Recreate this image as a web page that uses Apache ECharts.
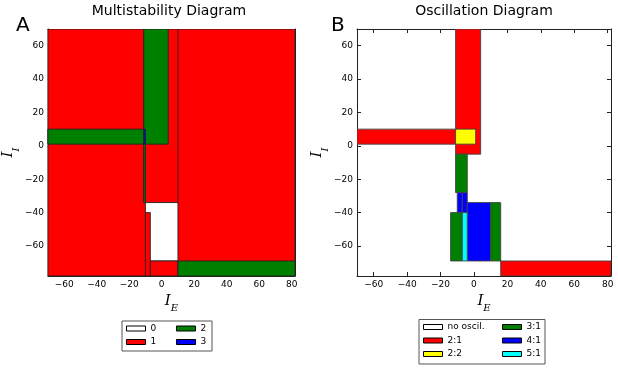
<!DOCTYPE html>
<html><head><meta charset="utf-8">
<script src="https://cdn.jsdelivr.net/npm/echarts@6/dist/echarts.min.js"></script>
<style>html,body{margin:0;padding:0;background:#fff}#c{width:618px;height:368px}</style>
</head><body><div id="c"></div>
<script>
// ---- data ----
const xTicks = [-60, -40, -20, 0, 20, 40, 60, 80];
const yTicks = [-60, -40, -20, 0, 20, 40, 60];
const xRange = [-70, 82];
const yRange = [-78, 70];

const multiLabels = ['0', '1', '2', '3'];
const multiColors = ['#ffffff', '#ff0000', '#008000', '#0000ff'];
// [xStart, xEnd, yStart, yEnd, stateIndex] in drawing order
const multiRects = [
  [-70, 82, -78, 70, 1],
  [-11, 10, -34, 70, 1],
  [-11, 4, 1, 70, 2],
  [-70, -11, 1, 10, 2],
  [-11, -10, 1, 10, 3],
  [-11, -10, -34, 1, 2],
  [-10, 10, -69, -34, 0],
  [-10, -7, -78, -40, 1],
  [-7, 10, -78, -69, 1],
  [10, 82, -78, -69, 2]
];

const oscLabels = ['no oscil.', '2:1', '2:2', '3:1', '4:1', '5:1'];
const oscColors = ['#ffffff', '#ff0000', '#ffff00', '#008000', '#0000ff', '#00ffff'];
const oscRects = [
  [-70, -11, 1, 10, 1],
  [-11, 4, -5, 70, 1],
  [-11, 1, 1, 10, 2],
  [-11, -4, -28, -5, 3],
  [-10, -7, -40, -28, 4],
  [-7, -4, -40, -28, 4],
  [-4, 10, -69, -34, 4],
  [10, 16, -69, -34, 3],
  [-14, -7, -69, -40, 3],
  [-7, -4, -69, -40, 5],
  [16, 82, -78, -69, 1]
];

// ---- chart ----
const FONT = 'DejaVu Sans';
const minus = v => String(v).replace('-', '\u2212');
const frame = '#222';

function rectRenderer(colors, edge) {
  return function (params, api) {
    const p0 = api.coord([api.value(0), api.value(3)]);
    const p1 = api.coord([api.value(1), api.value(2)]);
    return {
      type: 'rect',
      shape: { x: p0[0], y: p0[1], width: p1[0] - p0[0], height: p1[1] - p0[1] },
      style: { fill: colors[api.value(4)], stroke: edge, lineWidth: 0.9 }
    };
  };
}

const nameRich = {
  i: { fontFamily: 'DejaVu Serif', fontStyle: 'italic', fontSize: 15, color: '#000', padding: [0, 0, 5, 0] },
  s: { fontFamily: 'DejaVu Serif', fontStyle: 'italic', fontSize: 10, color: '#000', verticalAlign: 'bottom' }
};

function xAxes(g) {
  const common = {
    type: 'value', gridIndex: g, min: xRange[0], max: xRange[1],
    axisLine: { show: true, onZero: false, lineStyle: { color: frame, width: 1 } },
    splitLine: { show: false }
  };
  return [
    Object.assign({}, common, {
      position: 'bottom',
      axisTick: { show: true, inside: true, length: 4, customValues: xTicks, lineStyle: { color: frame } },
      axisLabel: { customValues: xTicks, formatter: minus, fontSize: 9, fontFamily: FONT, color: '#000', margin: 4 },
      name: '{i|I}{s|E}', nameLocation: 'middle', nameGap: 10,
      nameTextStyle: { rich: nameRich }
    }),
    Object.assign({}, common, {
      position: 'top',
      axisTick: { show: true, inside: true, length: 4, customValues: xTicks, lineStyle: { color: frame } },
      axisLabel: { show: false }
    })
  ];
}
function yAxes(g) {
  const common = {
    type: 'value', gridIndex: g, min: yRange[0], max: yRange[1],
    axisLine: { show: true, onZero: false, lineStyle: { color: frame, width: 1 } },
    splitLine: { show: false }
  };
  return [
    Object.assign({}, common, {
      position: 'left',
      axisTick: { show: true, inside: true, length: 4, customValues: yTicks, lineStyle: { color: frame } },
      axisLabel: { customValues: yTicks, formatter: minus, fontSize: 9, fontFamily: FONT, color: '#000', margin: 4 },
      name: '{i|I}{s|I}', nameLocation: 'middle', nameGap: 23, nameRotate: 90,
      nameTextStyle: { rich: nameRich }
    }),
    Object.assign({}, common, {
      position: 'right',
      axisTick: { show: true, inside: true, length: 4, customValues: yTicks, lineStyle: { color: frame } },
      axisLabel: { show: false }
    })
  ];
}

function legendCol(names, left, top) {
  return {
    data: names, orient: 'vertical', left: left, top: top,
    itemWidth: 19, itemHeight: 5, itemGap: 2.5, icon: 'rect', selectedMode: false,
    padding: 0,
    itemStyle: { borderColor: '#000', borderWidth: 1 },
    textStyle: { fontSize: 9, fontFamily: FONT, color: '#000', lineHeight: 11 }
  };
}

const series = [
  { type: 'custom', xAxisIndex: 0, yAxisIndex: 0, clip: true, silent: true,
    renderItem: rectRenderer(multiColors, '#222'), encode: { x: [0, 1], y: [2, 3] }, data: multiRects },
  { type: 'custom', xAxisIndex: 2, yAxisIndex: 2, clip: true, silent: true,
    renderItem: rectRenderer(oscColors, '#444'), encode: { x: [0, 1], y: [2, 3] }, data: oscRects }
];
multiLabels.forEach((n, i) => series.push({ type: 'custom', name: n, xAxisIndex: 0, yAxisIndex: 0,
  data: [], renderItem: () => null, itemStyle: { color: multiColors[i] } }));
oscLabels.forEach((n, i) => series.push({ type: 'custom', name: n, xAxisIndex: 2, yAxisIndex: 2,
  data: [], renderItem: () => null, itemStyle: { color: oscColors[i] } }));

const chart = echarts.init(document.getElementById('c'), null, { renderer: 'canvas' });
chart.setOption({
  animation: false,
  backgroundColor: '#fff',
  title: [
    { text: 'Multistability Diagram', left: 169, top: 4, padding: 0, textAlign: 'center',
      textStyle: { fontFamily: FONT, fontSize: 14, fontWeight: 'normal', color: '#000' } },
    { text: 'Oscillation Diagram', left: 484, top: 4, padding: 0, textAlign: 'center',
      textStyle: { fontFamily: FONT, fontSize: 14, fontWeight: 'normal', color: '#000' } },
    { text: 'A', left: 11, top: 11,
      textStyle: { fontFamily: FONT, fontSize: 20, fontWeight: 'normal', color: '#000' } },
    { text: 'B', left: 326, top: 11,
      textStyle: { fontFamily: FONT, fontSize: 20, fontWeight: 'normal', color: '#000' } }
  ],
  grid: [
    { left: 42, top: 29, width: 253, height: 247 },
    { left: 357, top: 29, width: 254, height: 247 }
  ],
  xAxis: xAxes(0).concat(xAxes(1)),
  yAxis: yAxes(0).concat(yAxes(1)),
  legend: [
    legendCol([multiLabels[0], multiLabels[1]], 126, 323),
    legendCol([multiLabels[2], multiLabels[3]], 176, 323),
    legendCol(oscLabels.slice(0, 3), 423, 321.5),
    legendCol(oscLabels.slice(3, 6), 502, 321.5)
  ],
  graphic: [
    { type: 'rect', shape: { x: 122, y: 321, width: 90, height: 30 },
      style: { fill: 'none', stroke: '#555', lineWidth: 1 }, z: 100 },
    { type: 'rect', shape: { x: 419, y: 319.5, width: 126, height: 44.5 },
      style: { fill: 'none', stroke: '#555', lineWidth: 1 }, z: 100 }
  ],
  series: series
});
</script></body></html>
